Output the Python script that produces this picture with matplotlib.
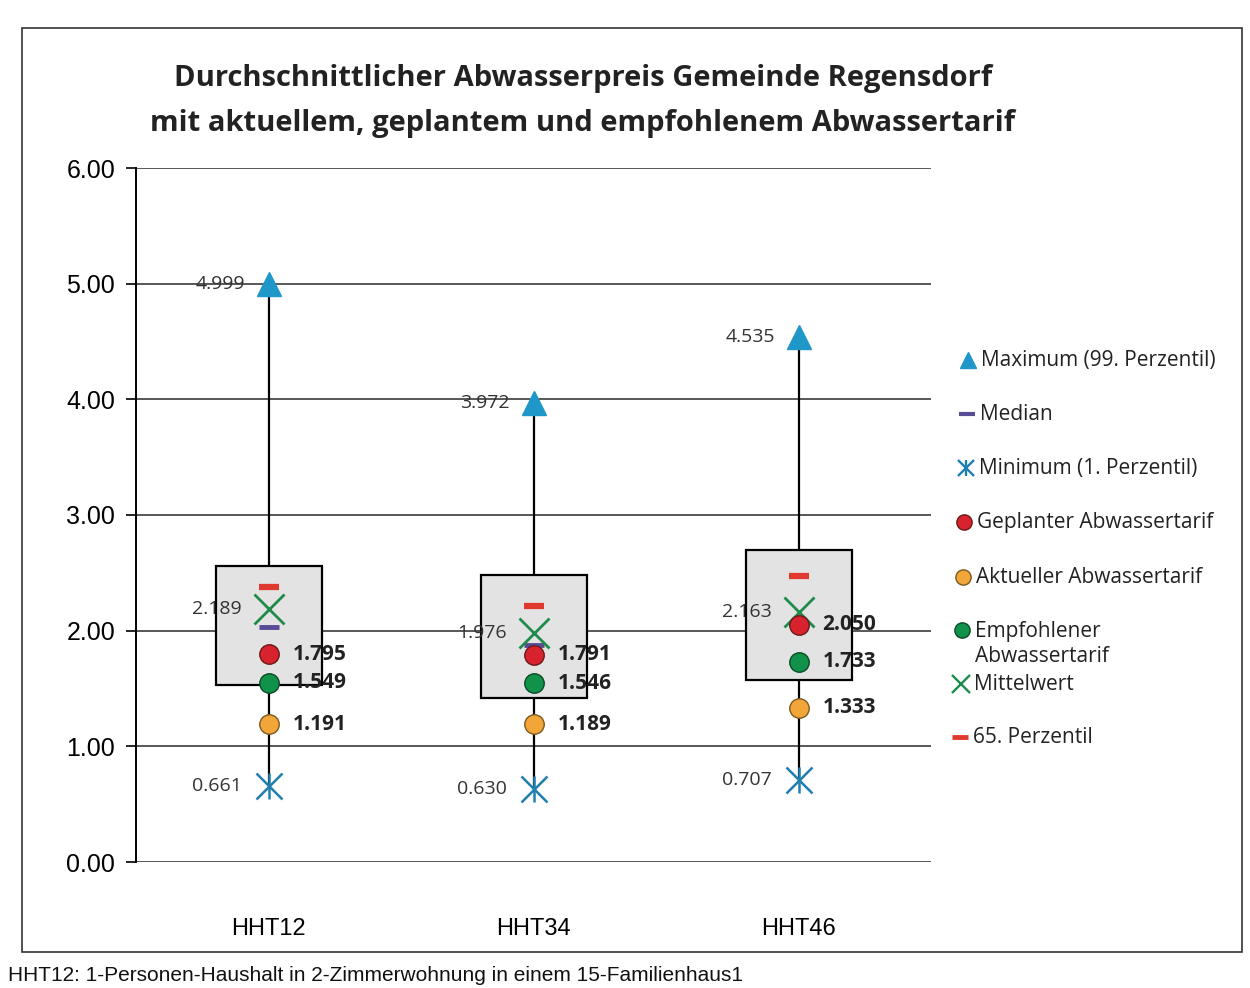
import numpy as np
import matplotlib
matplotlib.use('Agg')
import matplotlib.pyplot as plt
from matplotlib.patches import Rectangle

categories = ['HHT12', 'HHT34', 'HHT46']
maximum = [4.999, 3.972, 4.535]
minimum = [0.661, 0.630, 0.707]
mittelwert = [2.189, 1.976, 2.163]
median = [2.03, 1.88, 2.06]
perz65 = [2.38, 2.21, 2.47]
q1 = [1.53, 1.42, 1.57]
q3 = [2.56, 2.48, 2.70]
geplant = [1.795, 1.791, 2.050]
empfohlen = [1.549, 1.546, 1.733]
aktuell = [1.191, 1.189, 1.333]
y_ticks = [0, 1, 2, 3, 4, 5, 6]

c_max = '#1f97c9'
c_min = '#1f7fae'
c_mean = '#1f8a4a'
c_med = '#5a4b96'
c_p65 = '#e0392f'
c_geplant = '#d8222e'
c_empf = '#11924a'
c_akt = '#f2a63a'

W, H = 1250, 988
fig = plt.figure(figsize=(12.5, 9.88), dpi=100)
ax = fig.add_axes([136 / W, 1 - 862 / H, 795 / W, (862 - 168) / H])

x = np.arange(len(categories))

# whisker from min to max, box on top
ax.vlines(x, minimum, maximum, color='black', lw=1.6, zorder=2)
ax.bar(x, np.array(q3) - np.array(q1), bottom=q1, width=0.4,
       color='#e3e3e3', edgecolor='black', lw=1.6, zorder=3)

ax.plot(x, maximum, ls='none', marker='^', ms=17, color=c_max, zorder=5)
ax.plot(x, minimum, ls='none', marker='x', ms=19, mew=1.8, color=c_min, zorder=5)
ax.plot(x, minimum, ls='none', marker='|', ms=19, mew=1.8, color=c_min, zorder=5)
ax.plot(x, perz65, ls='none', marker='_', ms=15, mew=4.5, color=c_p65, zorder=5)
ax.plot(x, median, ls='none', marker='_', ms=15, mew=3.5, color=c_med, zorder=5)
ax.plot(x, mittelwert, ls='none', marker='x', ms=21, mew=2.0, color=c_mean, zorder=6)
ax.plot(x, geplant, ls='none', marker='o', ms=14, mfc=c_geplant, mec='#6a1a1a', mew=1, zorder=6)
ax.plot(x, empfohlen, ls='none', marker='o', ms=14, mfc=c_empf, mec='#0b4a26', mew=1, zorder=6)
ax.plot(x, aktuell, ls='none', marker='o', ms=14, mfc=c_akt, mec='#7a5a20', mew=1, zorder=6)

lab = dict(family='Open Sans', fontsize=14, color='#333333', va='center', zorder=7)
bold = dict(family='Open Sans', fontsize=15, color='#222222', va='center',
            fontweight='bold', zorder=7)
for i in range(len(categories)):
    ax.text(x[i] - 0.09, maximum[i], f'{maximum[i]:.3f}', ha='right', **lab)
    ax.text(x[i] - 0.10, mittelwert[i], f'{mittelwert[i]:.3f}', ha='right', **lab)
    ax.text(x[i] - 0.10, minimum[i], f'{minimum[i]:.3f}', ha='right', **lab)
    ax.text(x[i] + 0.09, geplant[i], f'{geplant[i]:.3f}', ha='left', **bold)
    ax.text(x[i] + 0.09, empfohlen[i], f'{empfohlen[i]:.3f}', ha='left', **bold)
    ax.text(x[i] + 0.09, aktuell[i], f'{aktuell[i]:.3f}', ha='left', **bold)

ax.set_xlim(-0.5, 2.5)
ax.set_ylim(0, 6)
ax.set_yticks(y_ticks)
ax.set_yticklabels([f'{v:.2f}' for v in y_ticks], family='Liberation Sans', fontsize=18)
ax.set_xticks(x)
ax.set_xticklabels(categories, family='Liberation Sans', fontsize=17)
ax.tick_params(axis='x', length=0, pad=40)
ax.tick_params(axis='y', length=7, pad=8, width=1.2)
ax.grid(axis='y', color='#4a4a4a', lw=1.3)
ax.set_axisbelow(True)
for s in ['top', 'right', 'bottom']:
    ax.spines[s].set_visible(False)
ax.spines['left'].set_linewidth(1.4)
ax.patch.set_visible(False)

# overlay in pixel coordinates for title, legend, frame and footnote
ov = fig.add_axes([0, 0, 1, 1])
ov.set_xlim(0, W)
ov.set_ylim(H, 0)
ov.axis('off')
ov.patch.set_visible(False)

ov.add_patch(Rectangle((22, 28), 1220, 924, fill=False, ec='#333333', lw=1.2))

ov.text(583, 101, 'Durchschnittlicher Abwasserpreis Gemeinde Regensdorf\n'
        'mit aktuellem, geplantem und empfohlenem Abwassertarif',
        ha='center', va='center', family='Open Sans', fontweight='bold',
        fontsize=21, color='#222222', linespacing=1.75)

legend = [
    ('Maximum (99. Perzentil)', 360, dict(marker='^', ms=12, color=c_max)),
    ('Median', 414, dict(marker='_', ms=12, mew=3, color=c_med)),
    ('Minimum (1. Perzentil)', 468, dict(marker='x', ms=11, mew=1.7, color=c_min)),
    ('Geplanter Abwassertarif', 522, dict(marker='o', ms=11, mfc=c_geplant, mec='#6a1a1a')),
    ('Aktueller Abwassertarif', 577, dict(marker='o', ms=11, mfc=c_akt, mec='#7a5a20')),
    ('Empfohlener\nAbwassertarif', 644, dict(marker='o', ms=11, mfc=c_empf, mec='#0b4a26')),
    ('Mittelwert', 684, dict(marker='x', ms=13, mew=1.7, color=c_mean)),
    ('65. Perzentil', 737, dict(marker='_', ms=12, mew=3.5, color=c_p65)),
]
for i, (txt, yy, kw) in enumerate(legend):
    mx = 968 - i * 1.2
    my = yy if '\n' not in txt else yy - 14
    ov.plot([mx], [my], ls='none', **kw)
    if txt.startswith('Minimum'):
        ov.plot([mx], [my], ls='none', marker='|', ms=11, mew=1.7, color=c_min)
    ov.text(mx + 13, yy, txt, ha='left', va='center', family='Open Sans',
            fontsize=15, color='#222222', linespacing=1.2)

ov.text(8, 975, 'HHT12: 1-Personen-Haushalt in 2-Zimmerwohnung in einem 15-Familienhaus1',
        ha='left', va='center', family='Liberation Sans', fontsize=15, color='#111111')

fig.savefig('out.png', dpi=100)
